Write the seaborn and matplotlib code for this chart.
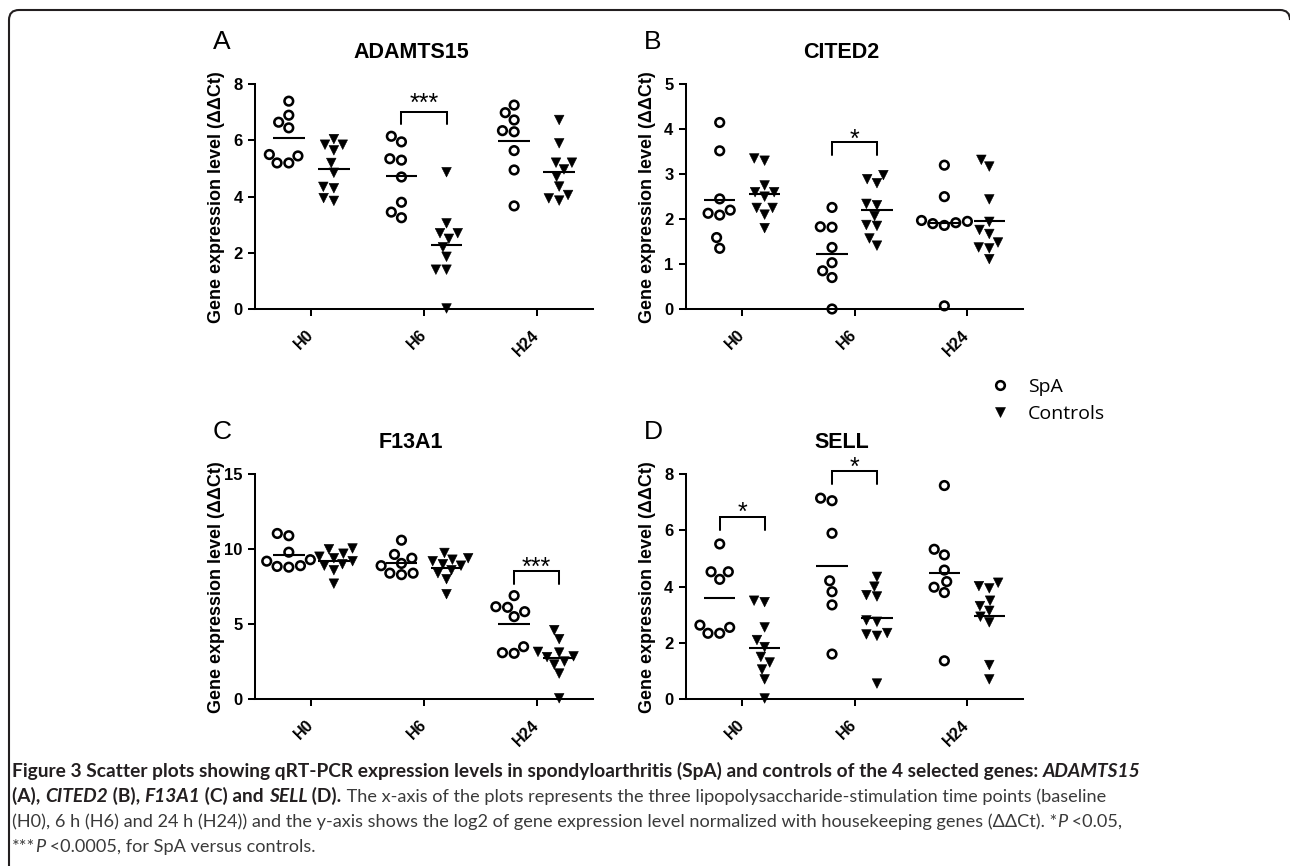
import numpy as np
import pandas as pd
import matplotlib
matplotlib.use("Agg")
import matplotlib.pyplot as plt
import seaborn as sns
from matplotlib.lines import Line2D
from matplotlib.patches import PathPatch, Rectangle
from matplotlib.path import Path
from matplotlib.transforms import IdentityTransform
from matplotlib.font_manager import FontProperties

# ---------------- data ----------------
TIMES = ["H0", "H6", "H24"]
GROUPS = ["SpA", "Controls"]

ADAMTS15_SPA_H0 = [7.4, 6.9, 6.65, 6.45, 5.5, 5.45, 5.2, 5.2]
ADAMTS15_CTRL_H0 = [6.05, 5.85, 5.85, 5.65, 5.2, 4.85, 4.35, 4.3, 3.85, 3.95]
ADAMTS15_SPA_H6 = [6.15, 5.95, 5.35, 5.3, 4.7, 3.8, 3.45, 3.25]
ADAMTS15_CTRL_H6 = [4.87, 3.05, 2.7, 2.7, 2.5, 2.2, 1.86, 1.4, 1.4, 0.02]
ADAMTS15_SPA_H24 = [7.26, 6.99, 6.73, 6.35, 6.31, 5.64, 4.95, 3.67]
ADAMTS15_CTRL_H24 = [6.73, 5.9, 5.21, 5.21, 4.97, 4.71, 4.36, 4.06, 3.94, 3.86]

CITED2_SPA_H0 = [4.15, 3.52, 2.45, 2.2, 2.13, 2.09, 1.59, 1.35]
CITED2_CTRL_H0 = [3.35, 3.3, 2.75, 2.6, 2.6, 2.5, 2.25, 2.25, 2.1, 1.8]
CITED2_SPA_H6 = [2.26, 1.83, 1.82, 1.37, 1.03, 0.85, 0.7, 0.0]
CITED2_CTRL_H6 = [2.98, 2.89, 2.8, 2.34, 2.31, 2.07, 1.87, 1.85, 1.57, 1.41]
CITED2_SPA_H24 = [3.2, 2.5, 1.97, 1.95, 1.92, 1.9, 1.86, 0.07]
CITED2_CTRL_H24 = [3.32, 3.17, 2.44, 1.94, 1.76, 1.67, 1.48, 1.37, 1.35, 1.11]

F13A1_SPA_H0 = [11.05, 10.9, 9.8, 9.3, 9.2, 8.9, 8.85, 8.8]
F13A1_CTRL_H0 = [10.05, 10.0, 9.7, 9.5, 9.4, 9.2, 9.0, 8.9, 8.6, 7.7]
F13A1_SPA_H6 = [10.6, 9.65, 9.4, 9.05, 8.9, 8.4, 8.4, 8.3]
F13A1_CTRL_H6 = [9.75, 9.4, 9.3, 9.2, 9.0, 8.9, 8.6, 8.4, 8.0, 7.0]
F13A1_SPA_H24 = [6.9, 6.16, 6.12, 5.83, 5.5, 3.49, 3.09, 3.05]
F13A1_CTRL_H24 = [4.6, 4.0, 3.15, 3.1, 2.85, 2.8, 2.5, 2.3, 1.7, 0.05]

SELL_SPA_H0 = [5.52, 4.53, 4.53, 4.26, 2.63, 2.55, 2.34, 2.34]
SELL_CTRL_H0 = [3.5, 3.45, 2.55, 2.1, 1.85, 1.5, 1.3, 1.05, 0.7, 0.02]
SELL_SPA_H6 = [7.15, 7.06, 5.9, 4.21, 3.82, 3.35, 1.6]
SELL_CTRL_H6 = [4.35, 4.0, 3.7, 3.65, 2.8, 2.75, 2.35, 2.3, 2.25, 0.55]
SELL_SPA_H24 = [7.6, 5.33, 5.13, 4.59, 4.18, 3.98, 3.79, 1.36]
SELL_CTRL_H24 = [4.14, 4.02, 3.94, 3.5, 3.31, 3.14, 2.93, 2.73, 1.21, 0.7]

GENES = ["ADAMTS15", "CITED2", "F13A1", "SELL"]
PANEL_LETTERS = ["A", "B", "C", "D"]
Y_TICKS = {
    "ADAMTS15": [0, 2, 4, 6, 8],
    "CITED2": [0, 1, 2, 3, 4, 5],
    "F13A1": [0, 5, 10, 15],
    "SELL": [0, 2, 4, 6, 8],
}
SPA_DATA = {
    "ADAMTS15": [ADAMTS15_SPA_H0, ADAMTS15_SPA_H6, ADAMTS15_SPA_H24],
    "CITED2": [CITED2_SPA_H0, CITED2_SPA_H6, CITED2_SPA_H24],
    "F13A1": [F13A1_SPA_H0, F13A1_SPA_H6, F13A1_SPA_H24],
    "SELL": [SELL_SPA_H0, SELL_SPA_H6, SELL_SPA_H24],
}
CTRL_DATA = {
    "ADAMTS15": [ADAMTS15_CTRL_H0, ADAMTS15_CTRL_H6, ADAMTS15_CTRL_H24],
    "CITED2": [CITED2_CTRL_H0, CITED2_CTRL_H6, CITED2_CTRL_H24],
    "F13A1": [F13A1_CTRL_H0, F13A1_CTRL_H6, F13A1_CTRL_H24],
    "SELL": [SELL_CTRL_H0, SELL_CTRL_H6, SELL_CTRL_H24],
}
# significance brackets: (time index, bracket top, leg end, stars, star centre)
BRACKETS = {
    "ADAMTS15": [(1, 7.03, 6.6, "***", 7.58)],
    "CITED2": [(1, 3.71, 3.43, "*", 3.95)],
    "F13A1": [(2, 8.54, 7.66, "***", 9.3)],
    "SELL": [(0, 6.47, 6.02, "*", 6.91), (1, 8.12, 7.66, "*", 8.52)],
}

CAPTION_LINES = [
    [("Figure 3 Scatter plots showing qRT-PCR expression levels in spondyloarthritis (SpA) and controls of the 4 selected genes: ", "b"),
     ("ADAMTS15", "bi")],
    [("(A), ", "b"), ("CITED2", "bi"), (" (B), ", "b"), ("F13A1", "bi"), (" (C) and ", "b"),
     ("SELL", "bi"), (" (D).", "b"),
     (" The x-axis of the plots represents the three lipopolysaccharide-stimulation time points (baseline", "r")],
    [("(H0), 6 h (H6) and 24 h (H24)) and the y-axis shows the log2 of gene expression level normalized with housekeeping genes (\u0394\u0394Ct). *", "r"),
     ("P", "i"), (" <0.05,", "r")],
    [("***", "r"), ("P", "i"), (" <0.0005, for SpA versus controls.", "r")],
]

# ---------------- style ----------------
sns.set_theme(style="ticks", rc={
    "axes.edgecolor": "black", "axes.linewidth": 1.45,
    "xtick.color": "black", "ytick.color": "black",
    "text.color": "black", "axes.labelcolor": "black",
})
plt.rcParams["font.family"] = ["Liberation Sans", "DejaVu Sans"]

W, H = 1290, 866
fig = plt.figure(figsize=(W / 100, H / 100), dpi=100, facecolor="white")

# axes boxes in pixels: left, right, top, bottom
BOXES = [(255, 593, 84.3, 309), (686, 1023, 84.3, 309),
         (255, 593, 474.3, 699), (686, 1023, 474.3, 699)]

OFF = 0.2
CIRC_MS, CIRC_LW = 6.2, 1.85
TRI_MS, TRI_LW = 6.9, 0.4
STAR_FS = 18

for gene, letter, (l, r, t, b) in zip(GENES, PANEL_LETTERS, BOXES):
    ax = fig.add_axes([l / W, (H - b) / H, (r - l) / W, (b - t) / H])
    rows = []
    for ti, tname in enumerate(TIMES):
        rows += [(tname, "SpA", v) for v in SPA_DATA[gene][ti]]
        rows += [(tname, "Controls", v) for v in CTRL_DATA[gene][ti]]
    df = pd.DataFrame(rows, columns=["time", "group", "value"])

    for grp, marker, size, lw in [("SpA", "o", CIRC_MS, CIRC_LW), ("Controls", "v", TRI_MS, TRI_LW)]:
        n0 = len(ax.collections)
        sns.swarmplot(data=df[df["group"] == grp], x="time", y="value",
                      hue="group", hue_order=GROUPS, order=TIMES, dodge=True,
                      palette={"SpA": "black", "Controls": "black"},
                      marker=marker, size=size, linewidth=lw, edgecolor="black",
                      legend=False, ax=ax)
        for c in ax.collections[n0:]:
            c.set_clip_on(False)
            c.set_zorder(3)
            if grp == "SpA":
                c.set_facecolor("none")
                c.set_edgecolor("black")

    # mean lines
    for ti, tname in enumerate(TIMES):
        for grp, off in [("SpA", -OFF), ("Controls", OFF)]:
            m = df[(df["time"] == tname) & (df["group"] == grp)]["value"].mean()
            ax.hlines(m, ti + off - 0.14, ti + off + 0.14, color="black", lw=1.5, zorder=4)

    # significance brackets
    for ti, top, leg, stars, sy in BRACKETS[gene]:
        ax.plot([ti - OFF, ti - OFF, ti + OFF, ti + OFF], [leg, top, top, leg],
                color="black", lw=1.45, clip_on=False, solid_joinstyle="miter")
        ax.annotate(stars, xy=(ti, sy), xytext=(0, -0.6 * STAR_FS), textcoords="offset points",
                    ha="center", va="baseline", fontsize=STAR_FS, annotation_clip=False)

    yt = Y_TICKS[gene]
    ax.set_ylim(yt[0], yt[-1])
    ax.set_yticks(yt)
    ax.set_xlim(-0.5, 2.5)
    ax.set_xlabel("")
    ax.set_ylabel("Gene expression level (\u0394\u0394Ct)", fontsize=13, fontweight="bold")
    ax.yaxis.set_label_coords(-0.088, 0.5)
    sns.despine(ax=ax)
    ax.tick_params(axis="both", width=1.45, length=5, direction="out")
    ax.tick_params(axis="y", labelsize=12, pad=4)
    ax.tick_params(axis="x", labelsize=11.5, pad=12)
    for lab in ax.get_yticklabels():
        lab.set_fontweight("bold")
    for lab in ax.get_xticklabels():
        lab.set_fontweight("bold")
        lab.set_rotation(45)
        lab.set_ha("right")
        lab.set_va("center")
        lab.set_rotation_mode("anchor")

    ax.text(0.462, 1.142, gene, transform=ax.transAxes, ha="center", va="center",
            fontsize=15.5, fontweight="bold")
    ax.text(-0.098, 1.19, letter, transform=ax.transAxes, ha="center", va="center",
            fontsize=19)

# legend
handles = [Line2D([], [], ls="", marker="o", ms=CIRC_MS, mfc="none", mec="black", mew=CIRC_LW),
           Line2D([], [], ls="", marker="v", ms=TRI_MS, mfc="black", mec="black", mew=TRI_LW)]
fig.legend(handles, GROUPS, loc="upper left", bbox_to_anchor=(990 / W, (H - 378) / H),
           frameon=False, borderpad=0, borderaxespad=0, handlelength=1.0,
           handletextpad=0.96, labelspacing=0.45,
           prop={"family": ["Open Sans", "DejaVu Sans"], "size": 14})

# frame: left edge, rounded top-left corner, top edge, start of top-right corner (pixels)
ytop = H - 10
frame_path = Path(
    [(9, 0), (9, ytop - 10), (9, ytop), (19, ytop), (1280, ytop), (1290, ytop), (1290, ytop - 10)],
    [Path.MOVETO, Path.LINETO, Path.CURVE3, Path.CURVE3, Path.LINETO, Path.CURVE3, Path.CURVE3])
fig.add_artist(PathPatch(frame_path, transform=IdentityTransform(), fill=False,
                         edgecolor="#231f20", lw=1.5))
# keep the outer margin left of the frame blank
fig.add_artist(Rectangle((0, 0), 7, 30, transform=IdentityTransform(), facecolor="white",
                         edgecolor="none", zorder=100))

# caption
renderer = fig.canvas.get_renderer()
CAP_FAMILY = ["Lato", "DejaVu Sans"]
STYLES = {"b": dict(weight="bold", style="normal"),
          "bi": dict(weight="bold", style="italic"),
          "r": dict(weight="normal", style="normal"),
          "i": dict(weight="normal", style="italic")}


def run_width(s, size, key):
    prop = FontProperties(family=CAP_FAMILY, size=size, **STYLES[key])
    w1 = renderer.get_text_width_height_descent("|" + s + "|", prop, ismath=False)[0]
    w2 = renderer.get_text_width_height_descent("||", prop, ismath=False)[0]
    return w1 - w2


def line_width(runs, sizes):
    return sum(run_width(s, sizes[k[0]], k) for s, k in runs)


base = {"b": 12.0, "r": 12.0, "i": 12.0}
wb = line_width(CAPTION_LINES[0], base)
wr = line_width(CAPTION_LINES[2], base)
sb = 12.0 * (1121 / wb)
sr = 12.0 * (1103 / wr)
sizes = {"b": sb, "r": sr, "i": sr}

BASELINES = [777, 802, 827, 852]
for runs, yb in zip(CAPTION_LINES, BASELINES):
    x = 12.0
    for s, k in runs:
        col = "#231f20" if k.startswith("b") else "#3a3a3a"
        fig.text(x / W, (H - yb) / H, s, fontsize=sizes[k[0]], family=CAP_FAMILY,
                 color=col, ha="left", va="baseline",
                 fontweight=STYLES[k]["weight"], fontstyle=STYLES[k]["style"])
        x += run_width(s, sizes[k[0]], k)

fig.savefig("out.png", dpi=100, facecolor="white")
